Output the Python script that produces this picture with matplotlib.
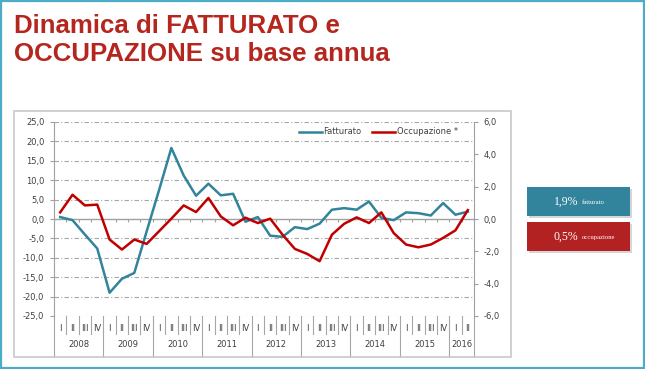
import matplotlib
matplotlib.use("Agg")
import matplotlib.pyplot as plt
from matplotlib.patches import Rectangle
from matplotlib.lines import Line2D
import numpy as np

# ---- data ----
years = ["2008", "2009", "2010", "2011", "2012", "2013", "2014", "2015", "2016"]
quarters = ["I", "II", "III", "IV"] * 8 + ["I", "II"]
fatturato = [0.5, -0.3, -4.0, -7.6, -19.0, -15.4, -13.9, -3.2, 7.4, 18.3, 11.2,
             6.0, 9.1, 6.1, 6.5, -0.7, 0.5, -4.3, -4.6, -2.1, -2.6, -1.2,
             2.4, 2.8, 2.4, 4.5, 0.3, -0.3, 1.7, 1.5, 0.9, 4.1, 1.1, 1.9]
occupazione = [0.41, 1.50, 0.84, 0.89, -1.27, -1.89, -1.27, -1.54, -0.76, 0.02, 0.84,
               0.43, 1.30, 0.16, -0.39, 0.08, -0.25, 0.02, -0.97, -1.85, -2.16, -2.61,
               -0.97, -0.29, 0.10, -0.25, 0.41, -0.87, -1.58, -1.75, -1.58, -1.17, -0.70, 0.55]
left_ticks = [25, 20, 15, 10, 5, 0, -5, -10, -15, -20, -25]
right_ticks = [6, 4, 2, 0, -2, -4, -6]
box_values = ["1,9%", "0,5%"]
box_names = ["fatturato", "occupazione"]

TEAL = "#31849B"
RED = "#C00000"
GRID = "#A6A6A6"
TXT = "#404040"
W, H = 645, 369

fig = plt.figure(figsize=(W / 100, H / 100), dpi=100)
fig.patch.set_facecolor("white")

def fx(px):
    return px / W

def fy(py):
    return 1 - py / H

# slide border
fig.add_artist(Rectangle((0.001, 0.002), 0.997, 0.995, transform=fig.transFigure,
                         fill=False, edgecolor="#4BACC6", lw=1.6))
# chart box
fig.add_artist(Rectangle((fx(14), fy(357)), fx(511 - 14), (357 - 111) / H,
                         transform=fig.transFigure, fill=False, edgecolor="#C8C8C8", lw=1.2))

# title
title_font = ["Liberation Sans", "DejaVu Sans"]
fig.text(fx(14), fy(33), "Dinamica di FATTURATO e", color="#B5261E",
         fontsize=18.6, fontweight="bold", family=title_font, va="baseline", ha="left")
fig.text(fx(14), fy(61), "OCCUPAZIONE su base annua", color="#B5261E",
         fontsize=18.6, fontweight="bold", family=title_font, va="baseline", ha="left")

ax = fig.add_axes([fx(54), fy(316), fx(474 - 54), (316 - 122) / H])
x = np.arange(len(fatturato))
ax.set_xlim(-0.5, len(fatturato) - 0.5)
ax.set_ylim(-25, 25)

for v in left_ticks:
    if v != 0:
        ax.axhline(v, color=GRID, lw=0.8, dashes=(4, 2, 1, 2), zorder=1)
ax.axhline(0, color="#A0A0A0", lw=1.0, zorder=1)
bounds = np.arange(len(fatturato) + 1) - 0.5
ax.vlines(bounds, -0.8, 0, color="#A0A0A0", lw=0.8, zorder=1)

l1, = ax.plot(x, fatturato, color=TEAL, lw=1.8, zorder=3, label="Fatturato")

ax.set_yticks(left_ticks)
ax.set_yticklabels([f"{v},0" for v in left_ticks])
ax.tick_params(axis="y", labelsize=6, colors=TXT, length=3, color="#A0A0A0", pad=4)
ax.set_xticks([])
for s in ["top", "bottom", "right"]:
    ax.spines[s].set_visible(False)
ax.spines["left"].set_color("#A0A0A0")

ax2 = ax.twinx()
ax2.set_ylim(-6, 6)
l2, = ax2.plot(x, occupazione, color=RED, lw=1.8, zorder=3, label="Occupazione *")
ax2.set_yticks(right_ticks)
ax2.set_yticklabels([f"{v},0" for v in right_ticks])
ax2.tick_params(axis="y", labelsize=6, colors=TXT, length=3, color="#A0A0A0", pad=4)
for s in ["top", "bottom", "left"]:
    ax2.spines[s].set_visible(False)
ax2.spines["right"].set_color("#A0A0A0")

# category axis labels
trans = ax.get_xaxis_transform()
for i, q in enumerate(quarters):
    ax.text(i, -0.062, q, transform=trans, ha="center", va="center",
            fontsize=6, color=TXT, clip_on=False)
for b in range(len(fatturato) + 1):
    long = (b % 4 == 0) or b == len(fatturato)
    y1 = -0.211 if long else -0.093
    ax.add_line(Line2D([b - 0.5, b - 0.5], [0, y1], transform=trans, color="#A6A6A6",
                       lw=0.8, clip_on=False))
for k, yr in enumerate(years):
    start = 4 * k
    end = min(4 * k + 3, len(fatturato) - 1)
    ax.text((start + end) / 2, -0.149, yr, transform=trans, ha="center", va="center",
            fontsize=6, color=TXT, clip_on=False)

leg = fig.legend(handles=[l1, l2], ncol=2, frameon=False, fontsize=6,
                 loc="center right", bbox_to_anchor=(fx(462), fy(132)),
                 bbox_transform=fig.transFigure, handlelength=2.8, handletextpad=0.2,
                 columnspacing=1.2, borderpad=0)
for t in leg.get_texts():
    t.set_color(TXT)

# side boxes
for k, (val, name, col) in enumerate(zip(box_values, box_names, [TEAL, "#B22222"])):
    top = 187 + k * 35
    fig.add_artist(Rectangle((fx(529), fy(top + 31)), fx(103), 29 / H,
                             transform=fig.transFigure, facecolor="#BBBBBB",
                             edgecolor="none", alpha=0.6))
    fig.add_artist(Rectangle((fx(527), fy(top + 29)), fx(103), 29 / H,
                             transform=fig.transFigure, facecolor=col, edgecolor="none"))
    fig.text(fx(578), fy(top + 14.5), val, color="white", fontsize=8.5,
             family=["Liberation Serif", "DejaVu Serif"], ha="right", va="center")
    fig.text(fx(582), fy(top + 15.5), name, color="white", fontsize=4.8,
             family=["Liberation Serif", "DejaVu Serif"], ha="left", va="center")

fig.savefig("out.png", dpi=100)
